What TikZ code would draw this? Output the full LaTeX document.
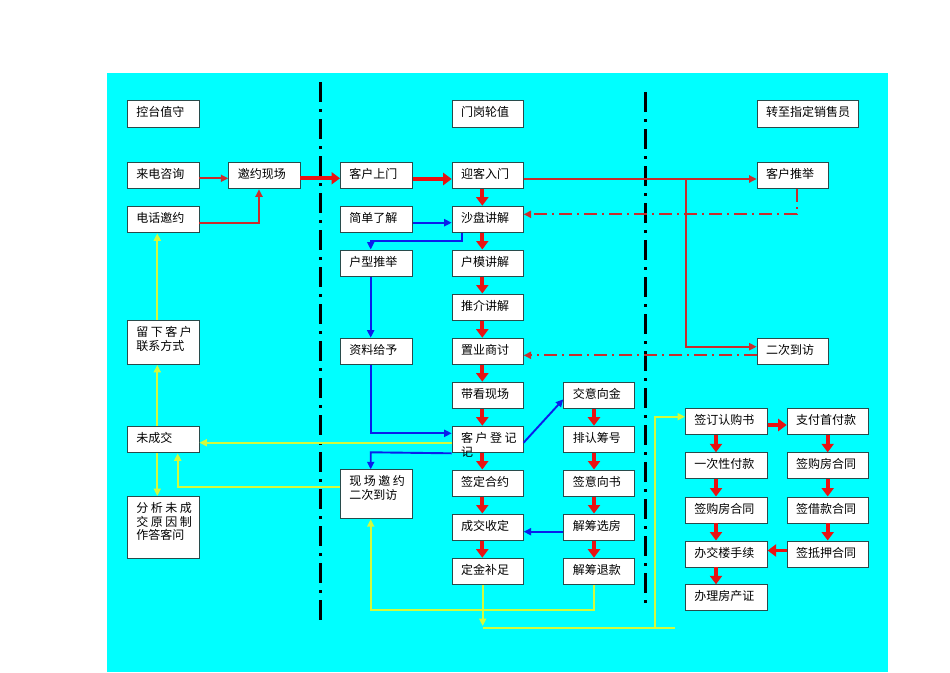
\documentclass[tikz,border=0pt]{standalone}
\usepackage{fontspec}
\setmainfont{Noto Sans CJK SC}
\usetikzlibrary{arrows.meta}
\definecolor{bgc}{RGB}{0,255,255}
\definecolor{boxc}{RGB}{40,75,75}
\definecolor{rt}{RGB}{200,45,45}
\definecolor{rk}{RGB}{232,18,18}
\definecolor{bl}{RGB}{10,30,235}
\definecolor{yl}{RGB}{210,250,60}
\newlength\tpad \setlength\tpad{6pt}
\newcommand\bx[6]{\node[box] (#1) at (#2,#3) {\parbox[c][#5pt][t]{#4pt}{\leftskip=9pt\relax\vspace*{\tpad}#6}};}
\newcommand\sps{\hspace{2.5pt}}
\tikzset{
  box/.style={draw=boxc, line width=0.9pt, fill=white, inner sep=0pt, anchor=north west,
    font=\fontsize{12pt}{13.7pt}\selectfont},
  redthin/.style={draw=rt, line width=1.9pt, -{Triangle[length=7.5pt,width=7pt]}},
  redthick/.style={draw=rk, line width=3.8pt, -{Triangle[length=8.5pt,width=12pt]}},
  reddd/.style={draw=rt, line width=1.8pt, dash pattern=on 13pt off 5pt on 2pt off 5pt, -{Triangle[length=7.5pt,width=7pt]}},
  blueline/.style={draw=bl, line width=1.9pt, -{Triangle[length=7.5pt,width=7pt]}},
  yelline/.style={draw=yl, line width=1.9pt, -{Triangle[length=7.5pt,width=7pt]}},
  yelplain/.style={draw=yl, line width=1.9pt},
  divider/.style={draw=black, line width=3pt, dash pattern=on 20pt off 7pt on 3pt off 7pt},
}
\begin{document}
\begin{tikzpicture}[x=1pt,y=-1pt]
\useasboundingbox (0,0) rectangle (950,672);
\fill[white] (0,0) rectangle (950,672);
\fill[bgc] (107,73) rectangle (888,672);
% dividers
\coordinate (d1a) at (320,82); \coordinate (d1b) at (320,620);
\coordinate (d2a) at (645,92); \coordinate (d2b) at (645,606);
\draw[divider] (d1a) -- (d1b);
\draw[divider] (d2a) -- (d2b);
% left column
\bx{kt}{127}{100}{71.5}{26.7}{控台值守}
\bx{ld}{127}{161.7}{71.5}{26.7}{来电咨询}
\bx{dh}{127}{205.7}{71.5}{26.7}{电话邀约}
\bx{lx}{127}{320}{71.5}{44}{留\sps 下\sps 客\sps 户\\联系方式}
\bx{wc}{127}{425.7}{71.5}{26.7}{未成交}
\bx{fx}{127}{496}{71.5}{61.7}{分\sps 析\sps 未\sps 成\\交\sps 原\sps 因\sps 制\\作答客问}
\bx{yy}{228.3}{161.7}{71.2}{26.7}{邀约现场}
% second column
\bx{ks}{340}{161.7}{71.7}{26.7}{客户上门}
\bx{jd}{340}{205.7}{71.7}{26.7}{简单了解}
\bx{hx}{340}{249.5}{71.7}{26.7}{户型推举}
\bx{zl}{340}{337.7}{71.7}{26.7}{资料给予}
\bx{xc}{340}{469.3}{71.7}{49}{现\sps 场\sps 邀\sps 约\\二次到访}
% center column
\bx{mg}{451.7}{100}{71}{26.7}{门岗轮值}
\bx{yk}{451.7}{161.7}{71}{26.7}{迎客入门}
\bx{sp}{451.7}{205.7}{71}{26.7}{沙盘讲解}
\bx{hm}{451.7}{249.5}{71}{26.7}{户模讲解}
\bx{tj}{451.7}{293.5}{71}{26.7}{推介讲解}
\bx{zy}{451.7}{337.7}{71}{26.7}{置业商讨}
\bx{dk}{451.7}{381.7}{71}{26.7}{带看现场}
\bx{dj}{451.7}{425.7}{71}{26.7}{客\sps 户\sps 登\sps 记\\记}
\bx{qd}{451.7}{469.5}{71}{26.7}{签定合约}
\bx{cj}{451.7}{513.5}{71}{26.7}{成交收定}
\bx{bz}{451.7}{557.7}{71}{26.7}{定金补足}
% right of center
\bx{yj}{563.3}{381.7}{71}{26.7}{交意向金}
\bx{rc}{563.3}{425.7}{71}{26.7}{排认筹号}
\bx{ys}{563.3}{469.5}{71}{26.7}{签意向书}
\bx{xf}{563.3}{513.5}{71}{26.7}{解筹选房}
\bx{tk}{563.3}{557.7}{71}{26.7}{解筹退款}
% far right
\bx{zz}{756.7}{100}{101.6}{26.7}{转至指定销售员}
\bx{kj}{756.7}{161.7}{71}{26.7}{客户推举}
\bx{ec}{756.7}{337.7}{71}{26.7}{二次到访}
\bx{rg}{685}{408.3}{81.7}{26}{签订认购书}
\bx{yc}{685}{452.3}{81.7}{26}{一次性付款}
\bx{gf}{685}{496.5}{81.7}{26}{签购房合同}
\bx{jl}{685}{540.5}{81.7}{26}{办交楼手续}
\bx{cz}{685}{584.3}{81.7}{26}{办理房产证}
\bx{sf}{786.7}{408.3}{81.7}{26}{支付首付款}
\bx{gf2}{786.7}{452.3}{81.7}{26}{签购房合同}
\bx{jk}{786.7}{496.5}{81.7}{26}{签借款合同}
\bx{dy}{786.7}{540.5}{81.7}{26}{签抵押合同}
% ---- red thin
\draw[redthin] (ld.east |- 0,178.3) -- (yy.west |- 0,178.3);
\coordinate (c1) at (259,223);
\draw[redthin] (dh.east |- c1) -- (c1) -- (c1 |- yy.south);
\draw[redthin] (yk.east |- 0,179) -- (kj.west |- 0,179);
\coordinate (c2) at (686,179);
\draw[redthin] (c2) -- (686,346.7) -- (ec.west |- 0,346.7);
% red dash-dot
\coordinate (c3) at (796.7,214.3);
\draw[reddd] (c3 |- kj.south) -- (c3) -- (sp.east |- c3);
\draw[reddd] (ec.west |- 0,355.3) -- (zy.east |- 0,355.3);
% red thick
\draw[redthick] (yy.east |- 0,178.3) -- (ks.west |- 0,178.3);
\draw[redthick] (ks.east |- 0,179) -- (yk.west |- 0,179);
\foreach \a/\b in {yk/sp,sp/hm,hm/tj,tj/zy,zy/dk,dk/dj,dj/qd,qd/cj,cj/bz}
  \draw[redthick] (482.3,0 |- \a.south) -- (482.3,0 |- \b.north);
\foreach \a/\b in {yj/rc,rc/ys,ys/xf,xf/tk}
  \draw[redthick] (594,0 |- \a.south) -- (594,0 |- \b.north);
\foreach \a/\b in {rg/yc,yc/gf,gf/jl,jl/cz}
  \draw[redthick] (716,0 |- \a.south) -- (716,0 |- \b.north);
\foreach \a/\b in {sf/gf2,gf2/jk,jk/dy}
  \draw[redthick] (827.7,0 |- \a.south) -- (827.7,0 |- \b.north);
\draw[redthick] (rg.east |- 0,425) -- (sf.west |- 0,425);
\draw[redthick] (dy.west |- 0,550.5) -- (jl.east |- 0,550.5);
% blue
\draw[blueline] (jd.east |- 0,222.7) -- (sp.west |- 0,222.7);
\coordinate (b1) at (462.3,240.7);
\coordinate (b2) at (370.7,240.7);
\draw[blueline] (b1 |- sp.south) -- (b1) -- (b2) -- (b2 |- hx.north);
\draw[blueline] (b2 |- hx.south) -- (b2 |- zl.north);
\coordinate (b3) at (370.7,433.3);
\draw[blueline] (b3 |- zl.south) -- (b3) -- (dj.west |- b3);
\draw[blueline] (dj.east |- 0,442.7) -- (yj.west |- 0,399.3);
\coordinate (b4) at (370.7,452.3);
\draw[blueline] (dj.south west) -- (b4) -- (b4 |- xc.north);
\draw[blueline] (xf.west |- 0,531.7) -- (cj.east |- 0,531.7);
% yellow
\draw[yelline] (dj.west |- 0,442.7) -- (wc.east |- 0,442.7);
\coordinate (y1) at (177.7,487);
\draw[yelline] (xc.west |- y1) -- (y1) -- (y1 |- wc.south);
\coordinate (y2) at (157.3,0);
\draw[yelline] (y2 |- wc.north) -- (y2 |- lx.south);
\draw[yelline] (y2 |- wc.south) -- (y2 |- fx.north);
\draw[yelline] (y2 |- lx.north) -- (y2 |- dh.south);
\coordinate (y3) at (594.3,610);
\coordinate (y4) at (370.7,610);
\draw[yelline] (y3 |- tk.south) -- (y3) -- (y4) -- (y4 |- xc.south);
\coordinate (y5) at (482.7,626);
\draw[yelline] (y5 |- bz.south) -- (y5);
\coordinate (y6) at (482.7,627.7);
\coordinate (y7) at (675,627.7);
\draw[yelplain] (y6) -- (y7);
\coordinate (y8) at (655,627.7);
\coordinate (y9) at (655,416.7);
\draw[yelline] (y8) -- (y9) -- (rg.west |- y9);
\end{tikzpicture}
\end{document}
